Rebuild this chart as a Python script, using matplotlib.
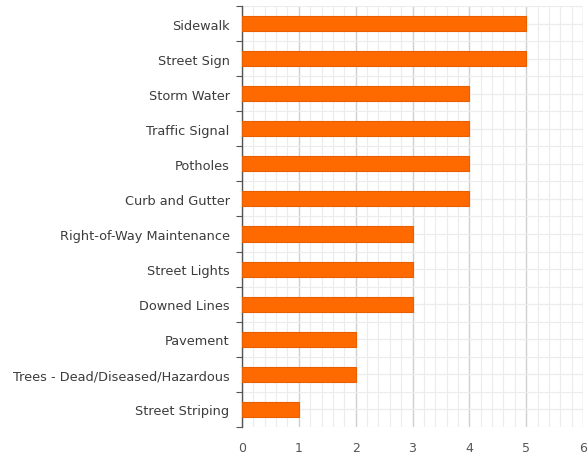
import matplotlib
matplotlib.use("Agg")
import matplotlib.pyplot as plt
from matplotlib.ticker import MultipleLocator

categories = [
    "Sidewalk", "Street Sign", "Storm Water", "Traffic Signal", "Potholes",
    "Curb and Gutter", "Right-of-Way Maintenance", "Street Lights",
    "Downed Lines", "Pavement", "Trees - Dead/Diseased/Hazardous",
    "Street Striping",
]
counts = [5, 5, 4, 4, 4, 4, 3, 3, 3, 2, 2, 1]
x_ticks = [0, 1, 2, 3, 4, 5, 6]

plt.rcParams["font.family"] = ["DejaVu Sans"]

fig = plt.figure(figsize=(5.88, 4.60), dpi=100)
ax = fig.add_axes([0.4116, 0.0696, 0.5799, 0.9152])

ypos = list(range(len(categories)))
ax.barh(ypos, counts, height=0.43, color="#ff6a00", edgecolor="#e85f00",
        linewidth=0.8, zorder=3)

ax.set_xlim(0, 6)
ax.set_ylim(len(categories) - 0.5, -0.5)

ax.set_yticks(ypos)
ax.set_yticklabels(categories, fontsize=9.3, color="#3c3c3c", va="center_baseline")
ax.set_yticks([i - 0.5 for i in range(len(categories) + 1)], minor=True)
ax.tick_params(axis="y", which="major", length=0, pad=9)
ax.tick_params(axis="y", which="minor", length=4, width=0.8, color="#555555")

ax.set_xticks(x_ticks)
ax.set_xticklabels([str(v) for v in x_ticks], fontsize=9, color="#555555")
ax.xaxis.set_minor_locator(MultipleLocator(0.2))
ax.tick_params(axis="x", which="both", length=0, pad=10)

ax.grid(axis="x", which="major", color="#d0d0d0", linewidth=1.0, zorder=0)
ax.grid(axis="x", which="minor", color="#ececec", linewidth=0.8, zorder=0)
ax.grid(axis="y", which="both", color="#ececec", linewidth=0.8, zorder=0)
# extra horizontal lines at bar centres
for y in ypos:
    ax.axhline(y, color="#ececec", linewidth=0.8, zorder=0)

for side in ["top", "right", "bottom"]:
    ax.spines[side].set_visible(False)
ax.spines["left"].set_color("#555555")
ax.spines["left"].set_linewidth(1.0)

fig.savefig("out.png", dpi=100)
